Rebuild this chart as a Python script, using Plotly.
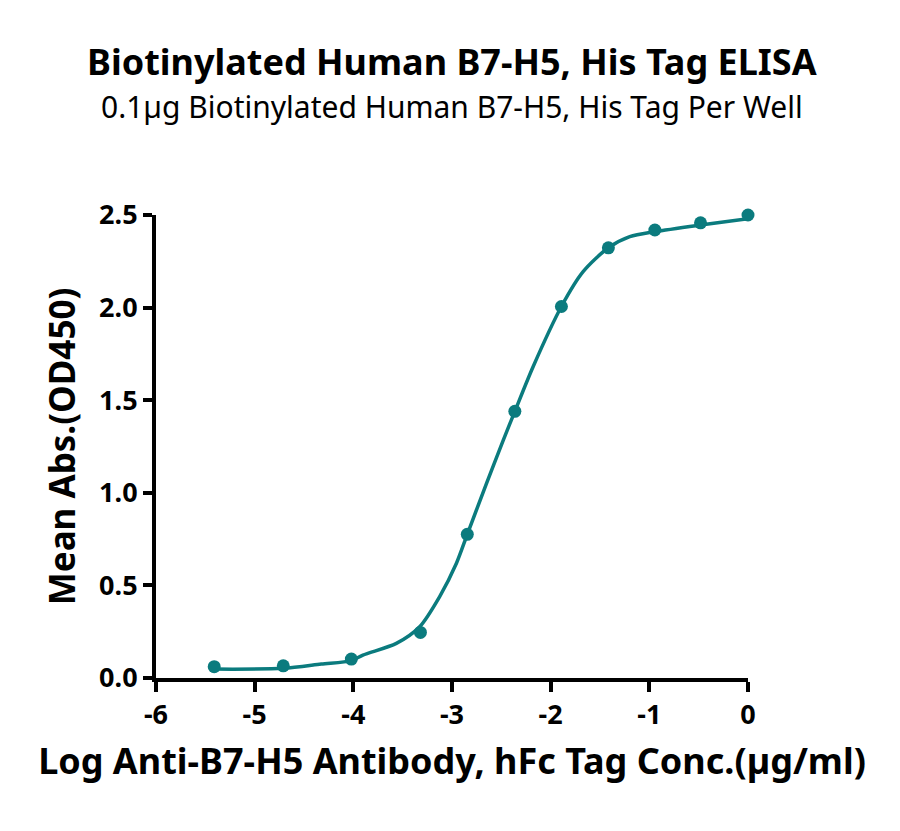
import plotly.graph_objects as go

# measured points (log conc, OD450)
log_conc = [-5.41, -4.71, -4.02, -3.32, -2.845, -2.363, -1.891, -1.415, -0.944, -0.481, 0.0]
mean_abs = [0.061, 0.066, 0.102, 0.246, 0.776, 1.44, 2.006, 2.323, 2.419, 2.458, 2.5]

# fitted curve
fit_x = [-5.41, -4.71, -4.325, -4.02, -3.903, -3.564, -3.328, -3.125, -2.955, -2.845,
         -2.651, -2.483, -2.363, -2.178, -1.891, -1.671, -1.415, -1.198, -0.944, -0.481, 0.0]
fit_y = [0.048, 0.052, 0.075, 0.094, 0.124, 0.187, 0.277, 0.44, 0.62, 0.776,
         1.05, 1.28, 1.44, 1.681, 2.006, 2.194, 2.323, 2.383, 2.41, 2.446, 2.48]

x_ticks = [-6, -5, -4, -3, -2, -1, 0]
x_ticktext = ["-6", "-5", "-4", "-3", "-2", "-1", "0"]
y_ticks = [0, 0.5, 1.0, 1.5, 2.0, 2.5]

teal = "#0b7b7e"
font = "Noto Sans"

fig = go.Figure()

fig.add_trace(go.Scatter(
    x=fit_x, y=fit_y,
    mode="lines",
    line=dict(color=teal, width=3.5, shape="spline", smoothing=0.8),
    hoverinfo="skip",
    showlegend=False,
    cliponaxis=False,
))

fig.add_trace(go.Scatter(
    x=log_conc, y=mean_abs,
    mode="markers",
    marker=dict(color=teal, size=13),
    showlegend=False,
    cliponaxis=False,
))

# plot area in figure pixels
top, bottom, left, right = 207, 161, 148, 160
plot_h = 831 - top - bottom


def y_px(py):
    # figure pixel row -> paper coordinate
    return 1 + (top - py) / plot_h


fig.update_layout(
    width=900, height=831,
    paper_bgcolor="white", plot_bgcolor="white",
    margin=dict(l=left, r=right, t=top, b=bottom),
    font=dict(family=font, color="black"),
    annotations=[
        dict(text="<b>Biotinylated Human B7-H5, His Tag ELISA</b>",
             x=0.5, y=y_px(54), xref="paper", yref="paper", yanchor="middle",
             showarrow=False, font=dict(size=36)),
        dict(text="0.1µg Biotinylated Human B7-H5, His Tag Per Well",
             x=0.5, y=y_px(98), xref="paper", yref="paper", yanchor="middle",
             showarrow=False, font=dict(size=30)),
    ],
)

fig.update_xaxes(
    range=[-6, 0], tickvals=x_ticks, ticktext=x_ticktext,
    showgrid=False, zeroline=False,
    showline=True, linecolor="black", linewidth=4,
    ticks="outside", ticklen=10, tickwidth=4, tickcolor="black",
    tickfont=dict(size=27, family=font, weight="bold"),
    title=dict(text="<b>Log Anti-B7-H5 Antibody, hFc Tag Conc.(µg/ml)</b>",
               font=dict(size=36), standoff=18),
)
fig.update_yaxes(
    range=[0, 2.5], tickvals=y_ticks, tickformat=".1f",
    showgrid=False, zeroline=False,
    showline=True, linecolor="black", linewidth=4,
    ticks="outside", ticklen=9, tickwidth=4, tickcolor="black",
    tickfont=dict(size=27, family=font, weight="bold"),
    title=dict(text="<b>Mean Abs.(OD450)</b>", font=dict(size=35), standoff=14),
)

fig.write_html("out.html")
